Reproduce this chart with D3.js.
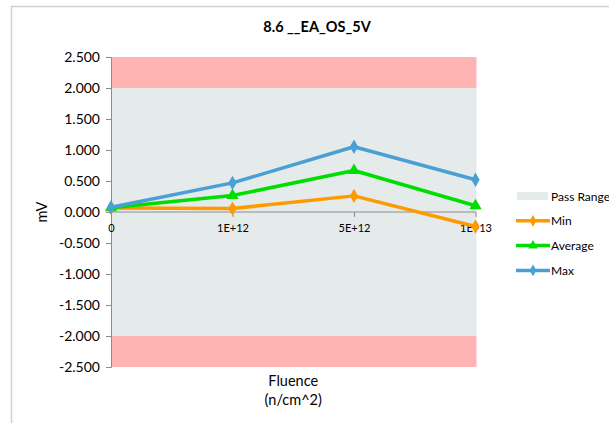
<!DOCTYPE html>
<html><head><meta charset="utf-8">
<script src="https://cdn.jsdelivr.net/npm/d3@7"></script>
<style>
html,body{margin:0;padding:0;background:#fff;}
svg{display:block;font-family:Lato,"Open Sans",sans-serif;}
</style></head>
<body><svg id="c" width="609" height="423"></svg>
<script>
const title = "8.6 __EA_OS_5V";
const categories = ["0","1E+12","5E+12","1E+13"];
const minVals = [0.065, 0.055, 0.26, -0.235];
const avgVals = [0.068, 0.265, 0.67, 0.10];
const maxVals = [0.078, 0.47, 1.053, 0.52];
const passRange = [-2, 2];
const yTicks = [2.5, 2.0, 1.5, 1.0, 0.5, 0, -0.5, -1.0, -1.5, -2.0, -2.5];
const yDomain = [-2.5, 2.5];
const seriesNames = ["Min","Average","Max"];
const legendNames = ["Pass Range","Min","Average","Max"];

const svg = d3.select("#c");
const L = 111, R = 475.5, T = 57, B = 367;
const x = d3.scalePoint().domain(categories).range([L, R]);
const y = d3.scaleLinear().domain(yDomain).range([B, T]);

// outer border
svg.append("rect").attr("x",11.5).attr("y",6.5).attr("width",620).attr("height",440)
  .attr("fill","none").attr("stroke","#d0d0d0").attr("stroke-width",1.5);

// bands
svg.append("rect").attr("x",L).attr("width",R-L+1).attr("y",y(yDomain[1])).attr("height",y(passRange[1])-y(yDomain[1])).attr("fill","#ffb3b3");
svg.append("rect").attr("x",L).attr("width",R-L+1).attr("y",y(passRange[1])).attr("height",y(passRange[0])-y(passRange[1])).attr("fill","#e5ebeb");
svg.append("rect").attr("x",L).attr("width",R-L+1).attr("y",y(passRange[0])).attr("height",y(yDomain[0])-y(passRange[0])).attr("fill","#ffb3b3");

// y axis
const ya = svg.append("g").attr("transform",`translate(${L},0)`)
  .call(d3.axisLeft(y).tickValues(yTicks).tickFormat(d3.format(".3f")).tickSizeOuter(0).tickSize(5).tickPadding(6));
ya.select(".domain").attr("stroke","#8c8c8c");
ya.selectAll(".tick line").attr("stroke","#8c8c8c");
ya.selectAll("text").attr("font-size",14).attr("fill","#000").attr("font-family","Lato");
ya.selectAll(".tick text").text(d => d3.format(".3f")(d).replace("−","-"));

// x axis at zero
const xa = svg.append("g").attr("transform",`translate(0,${y(0)})`)
  .call(d3.axisBottom(x).tickSizeOuter(0).tickSize(5).tickPadding(7));
xa.select(".domain").attr("stroke","#8c8c8c").attr("d",`M${L},0H${R}`);
xa.selectAll(".tick line").attr("stroke","#8c8c8c");
xa.selectAll("text").attr("font-size",11).attr("fill","#000").attr("font-family","Lato");

// series
const series = [
  {name:"Min", vals:minVals, color:"#ff9900", shape:"diamond"},
  {name:"Average", vals:avgVals, color:"#00dd00", shape:"triangle"},
  {name:"Max", vals:maxVals, color:"#4a9fd4", shape:"diamond"}
];
const line = d3.line().x((d,i)=>x(categories[i])).y(d=>y(d));
series.forEach(s=>{
  svg.append("path").attr("d",line(s.vals)).attr("fill","none").attr("stroke",s.color).attr("stroke-width",3.5).attr("stroke-linejoin","round");
  const sym = d3.symbol().type(s.shape==="diamond"?d3.symbolDiamond:d3.symbolTriangle).size(s.shape==="diamond"?60:65);
  svg.selectAll(null).data(s.vals).enter().append("path")
    .attr("d",sym).attr("transform",(d,i)=>`translate(${x(categories[i])},${y(d)})`).attr("fill",s.color);
});

// title
svg.append("text").attr("x",317).attr("y",32).attr("text-anchor","middle").attr("font-weight","bold").attr("font-size",14.5).text(title);
// axis titles
svg.append("text").attr("x",(L+R)/2).attr("y",386).attr("text-anchor","middle").attr("font-size",14.5).text("Fluence");
svg.append("text").attr("x",(L+R)/2).attr("y",405).attr("text-anchor","middle").attr("font-size",14.5).text("(n/cm^2)");
svg.append("text").attr("transform","translate(47,212) rotate(-90)").attr("text-anchor","middle").attr("font-size",14.5).text("mV");

// legend
const lg = svg.append("g");
const ly0 = 196, ldy = 24.8;
lg.append("rect").attr("x",517).attr("y",ly0-4).attr("width",31).attr("height",8).attr("fill","#e5ebeb");
lg.append("text").attr("x",551).attr("y",ly0+4.5).attr("font-size",12).attr("textLength",null).text(legendNames[0]);
series.forEach((s,i)=>{
  const yy = ly0 + ldy*(i+1);
  lg.append("line").attr("x1",516).attr("x2",550).attr("y1",yy).attr("y2",yy).attr("stroke",s.color).attr("stroke-width",3.5);
  lg.append("path").attr("d",d3.symbol().type(s.shape==="diamond"?d3.symbolDiamond:d3.symbolTriangle).size(40))
    .attr("transform",`translate(533,${yy})`).attr("fill",s.color);
  lg.append("text").attr("x",551).attr("y",yy+4.5).attr("font-size",12).text(legendNames[i+1]);
});
</script></body></html>
